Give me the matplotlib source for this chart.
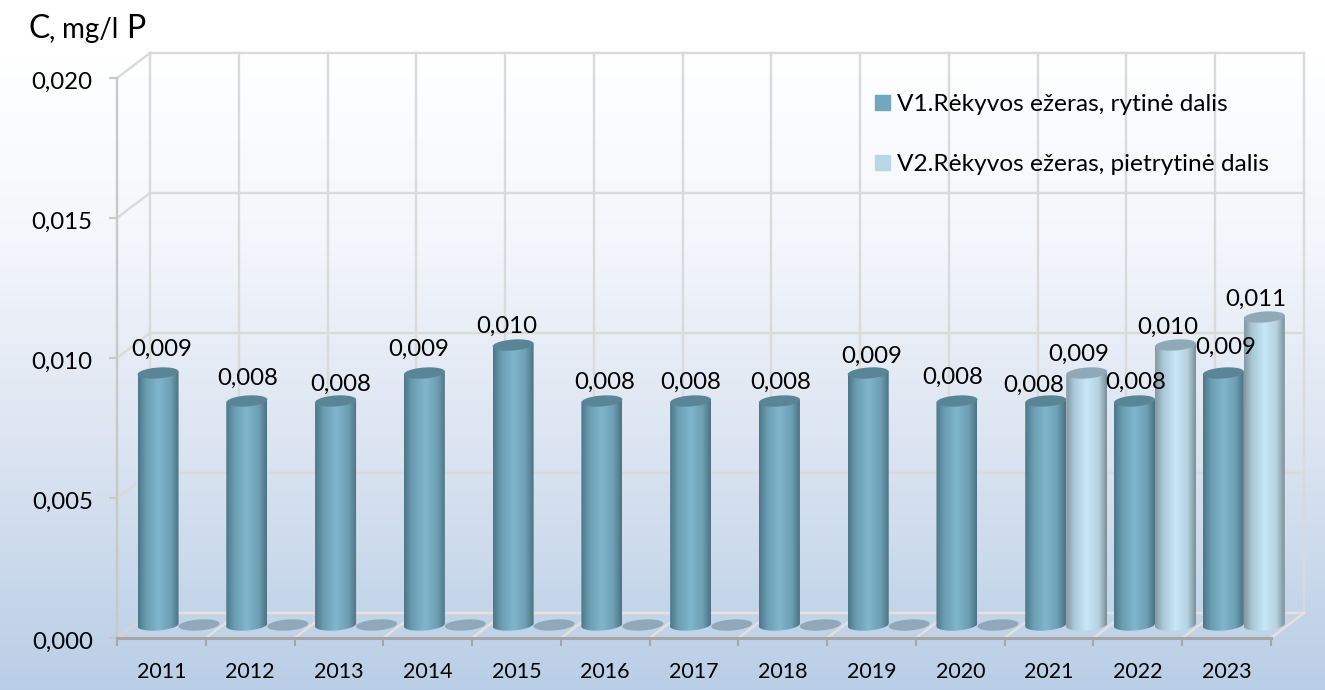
#!/usr/bin/env python
import numpy as np
import matplotlib
matplotlib.use('Agg')
import matplotlib.pyplot as plt
from matplotlib.colors import LinearSegmentedColormap
from matplotlib.patches import Patch, Polygon
from matplotlib.transforms import ScaledTranslation

plt.rcParams['font.family'] = ['Lato', 'DejaVu Sans']

years = ['2011', '2012', '2013', '2014', '2015', '2016', '2017', '2018', '2019', '2020', '2021', '2022', '2023']
v1 = [0.009, 0.008, 0.008, 0.009, 0.010, 0.008, 0.008, 0.008, 0.009, 0.008, 0.008, 0.008, 0.009]
v2 = [0, 0, 0, 0, 0, 0, 0, 0, 0, 0, 0.009, 0.010, 0.011]
yticks = [0.000, 0.005, 0.010, 0.015, 0.020]
name1 = 'V1.Rėkyvos ežeras, rytinė dalis'
name2 = 'V2.Rėkyvos ežeras, pietrytinė dalis'

# label nudges in pixels (dx, dy above the cylinder top), as placed in the original
nudge1 = [(4, 24), (1, 23), (5, 17), (-6, 24), (-6, 19), (3, 19), (0, 19), (1, 19),
          (3, 17), (-4, 24), (-12, 16), (1, 19), (2, 26)]
nudge2 = [(-8, 19), (-8, 18), (-8, 18)]

W, H = 1325, 690
fig = plt.figure(figsize=(W / 100, H / 100), dpi=100)

# background gradient
bg = fig.add_axes([0, 0, 1, 1], zorder=0)
bg_cmap = LinearSegmentedColormap.from_list('bg', [(0, '#ffffff'), (0.08, '#ffffff'), (0.35, '#f3f6fb'),
                                                   (0.65, '#dbe4f1'), (1, '#b9cee6')])
bg.imshow(np.linspace(0, 1, 256).reshape(-1, 1), cmap=bg_cmap, aspect='auto', extent=[0, 1, 0, 1])
bg.axis('off')

# front plane of the 3D box
ax = fig.add_axes([117 / W, (H - 638) / H, 1154 / W, 560 / H], zorder=1)
ax.patch.set_visible(False)
ax.set_xlim(0, len(years))
ax.set_ylim(0, 0.020)
for s in ax.spines.values():
    s.set_visible(False)

px_x = len(years) / 1154
px_y = 0.020 / 560
depth_x = 33 * px_x
depth_y = 25 * px_y

ax.set_xticks(range(len(years) + 1))
ax.set_xticklabels([])
ax.set_xticks(np.arange(len(years)) + 0.5, years, minor=True)
ax.tick_params(axis='x', which='major', length=6, width=1.5, color='#a6a6a6')
ax.tick_params(axis='x', which='minor', length=0, pad=17, labelsize=15.5, labelcolor='black')
ax.set_yticks(yticks)
ax.set_yticklabels([f'{t:.3f}'.replace('.', ',') for t in yticks], fontsize=17.3)
ax.tick_params(axis='y', length=6, width=1.5, color='#c8c8c8', pad=11.5)
for lab in ax.get_yticklabels():
    lab.set_transform(lab.get_transform() + ScaledTranslation(0, -2.5 / 100, fig.dpi_scale_trans))

# walls
wall = '#dadada'
for t in yticks[1:]:
    ax.plot([depth_x, len(years) + depth_x], [t + depth_y] * 2, color=wall, lw=1.7, clip_on=False, zorder=1)
    ax.plot([0, depth_x], [t, t + depth_y], color=wall, lw=1.7, clip_on=False, zorder=1)
for i in range(len(years) + 1):
    ax.plot([i + depth_x] * 2, [depth_y, 0.020 + depth_y], color=wall, lw=1.7, clip_on=False, zorder=1)
    ax.plot([i, i + depth_x], [0, depth_y], color='#e6e2da', lw=1.7, clip_on=False, zorder=1)
ax.plot([depth_x, len(years) + depth_x], [depth_y, depth_y], color='#e6e2da', lw=1.7, clip_on=False, zorder=1)
ax.plot([0, depth_x], [0, depth_y], color='#d4d2cc', lw=1.7, clip_on=False, zorder=1)
ax.plot([0, 0], [0, 0.020], color='#c8c8c8', lw=1.7, clip_on=False, zorder=2)
ax.plot([0, len(years)], [0, 0], color='#a6a6a6', lw=2.2, clip_on=False, zorder=2)

side1 = LinearSegmentedColormap.from_list('s1', [(0, '#4d7688'), (0.2, '#6a9db2'), (0.5, '#80b6cc'),
                                                 (0.8, '#6d9fb4'), (1, '#4c7282')])
side2 = LinearSegmentedColormap.from_list('s2', [(0, '#84979f'), (0.2, '#a9c8d7'), (0.5, '#c8e7f7'),
                                                 (0.8, '#b4d2e0'), (1, '#7c8f97')])
top1, top2 = '#5a8597', '#8fa9b8'
bar_w = 41 * px_x
half_b = 5.5 * px_y
t = np.linspace(0, 2 * np.pi, 73)


def ring(xc, y):
    xs = xc + bar_w / 2 * np.cos(t)
    ys = y + half_b * np.sin(t) + 0.07 * (bar_w / 2) * np.cos(t) * (px_y / px_x)
    return xs, ys


def cylinder(xc, val, cmap, top, z):
    y0 = depth_y * 0.52
    xs, ys = ring(xc, y0)
    xt, yt = ring(xc, y0 + val)
    if val > 0:
        low = t >= np.pi
        # outline: left end of the lower rim, round to the right, then back over the top
        order = np.argsort(xs[low])
        outline = np.r_[np.c_[xs[low][order], ys[low][order]], [[xt[0], yt[0]]], [[xt[36], yt[36]]]]
        clip = Polygon(outline, closed=True, transform=ax.transData)
        im = ax.imshow(np.linspace(0, 1, 128).reshape(1, -1), cmap=cmap, aspect='auto', zorder=z,
                       extent=[xc - bar_w / 2, xc + bar_w / 2, y0 - 2 * half_b, y0 + val + 2 * half_b])
        im.set_clip_path(clip)
        # images stop at the axes box otherwise, and the last cylinder sticks out of it
        im.set_clip_box(fig.bbox)
    ax.fill(xt, yt, color=top, lw=0, zorder=z + 0.1, clip_on=False)


offs = depth_x * 0.52
for i in range(len(years)):
    z = 3 + i
    x1 = i + 0.5 + offs - bar_w / 2
    x2 = i + 0.5 + offs + bar_w / 2
    cylinder(x1, v1[i], side1, top1, z)
    cylinder(x2, v2[i], side2, top2, z + 0.3)
ax.set_xlim(0, len(years))
ax.set_ylim(0, 0.020)

# data labels
y0 = depth_y * 0.52
for i, val in enumerate(v1):
    x = i + 0.5 + offs - bar_w / 2
    ax.annotate(f'{val:.3f}'.replace('.', ','), (x, y0 + val), xytext=nudge1[i], textcoords='offset pixels',
                ha='center', va='center', fontsize=17.3, zorder=30, annotation_clip=False)
k = 0
for i, val in enumerate(v2):
    if val > 0:
        x = i + 0.5 + offs + bar_w / 2
        ax.annotate(f'{val:.3f}'.replace('.', ','), (x, y0 + val), xytext=nudge2[k], textcoords='offset pixels',
                    ha='center', va='center', fontsize=17.3, zorder=30, annotation_clip=False)
        k += 1

handles = [Patch(color='#73a7bb'), Patch(color='#b9d8e6')]
ax.legend(handles, [name1, name2], loc='upper left', bbox_to_anchor=(875 / W, (H - 94) / H),
          bbox_transform=fig.transFigure, frameon=False, fontsize=17.6, handlelength=0.615, handleheight=0.615,
          handletextpad=0.29, labelspacing=1.6, borderpad=0, borderaxespad=0)

# unit title, separate pieces because the sizes differ
fig.text(29 / W, (H - 38) / H, 'C', fontsize=23, va='baseline')
fig.text(49 / W, (H - 38) / H, ',', fontsize=20, va='baseline')
fig.text(62 / W, (H - 38) / H, 'mg/l', fontsize=20, va='baseline')
fig.text(126 / W, (H - 38) / H, 'P', fontsize=23, va='baseline')

fig.savefig('out.png', dpi=100)
